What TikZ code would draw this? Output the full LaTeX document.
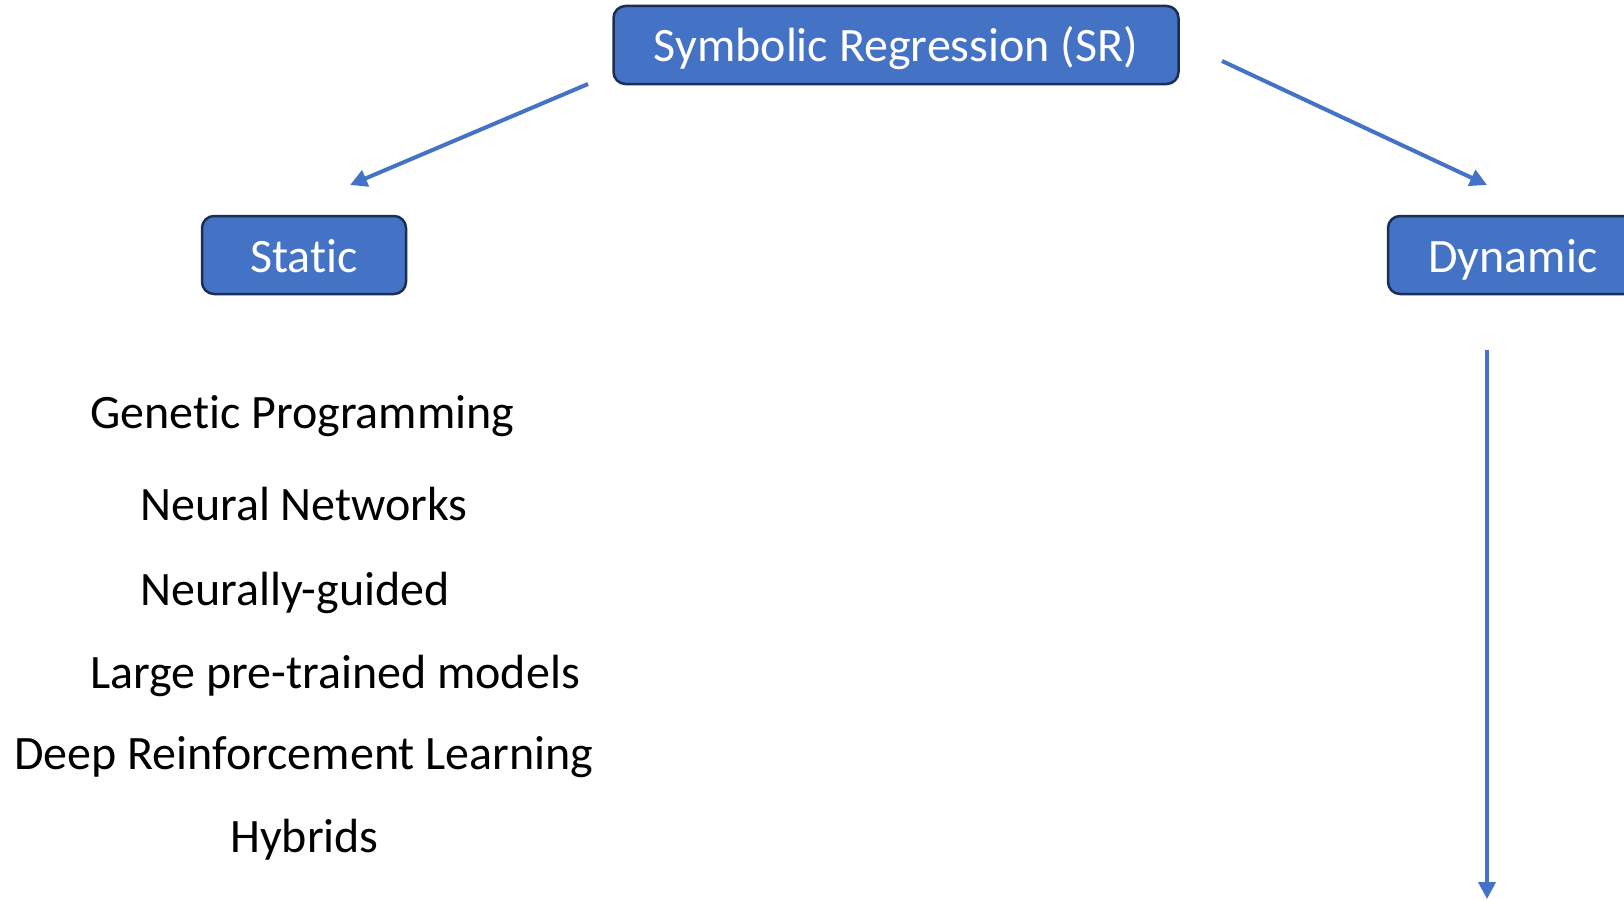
\documentclass[tikz,border=0pt]{standalone}
\usepackage{fontspec}
\setmainfont[Ligatures=NoCommon]{Carlito}
\usetikzlibrary{arrows.meta}
\definecolor{boxfill}{HTML}{4472C4}
\definecolor{boxline}{HTML}{1B2F55}
\definecolor{arrowblue}{HTML}{4472C4}
\begin{document}
\begin{tikzpicture}[x=1pt,y=-1pt,
  catbox/.style={draw=boxline, fill=boxfill, line width=2.5pt, rounded corners=12pt,
    text=white, minimum height=78pt, inner sep=0pt, text height=36pt, text depth=2pt,
    font=\fontsize{48}{56}\selectfont},
  item/.style={anchor=base west, inner sep=0pt, font=\fontsize{48}{56}\selectfont},
  link/.style={draw=arrowblue, line width=4pt, -{Triangle[length=17pt,width=17pt]}}]
  \useasboundingbox (0,0) rectangle (1624,899);
  \clip (0,0) rectangle (1624,899);

  % category boxes
  \node[catbox, minimum width=565pt] (sr) at (896,45) {Symbolic Regression (SR)};
  \node[catbox, minimum width=204pt] (static) at (304,255) {Static};
  \node[catbox, minimum width=250pt] (dynamic) at (1513,255) {Dynamic};

  % arrow end points
  \coordinate (lstart) at (588,84);
  \coordinate (lend) at (350,185);
  \coordinate (rstart) at (1222,61);
  \coordinate (rend) at (1487,185);
  \coordinate (vstart) at (1487,350);
  \coordinate (vend) at (1487,899);

  \draw[link] (lstart) -- (lend);
  \draw[link] (rstart) -- (rend);
  \draw[link] (vstart) -- (vend);

  % static methods
  \node[item] (gp) at (90,428.7) {Genetic Programming};
  \node[item] (nn) at (140,520.8) {Neural Networks};
  \node[item] (ng) at (140,605.8) {Neurally-guided};
  \node[item] (lp) at (90,688.6) {Large pre-trained models};
  \node[item] (drl) at (14,769.4) {Deep Reinforcement Learning};
  \node[item] (hy) at (230,852.3) {Hybrids};
\end{tikzpicture}
\end{document}
